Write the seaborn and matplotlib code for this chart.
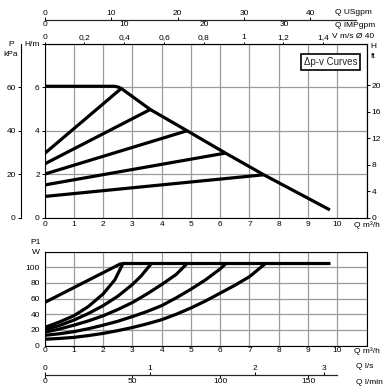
import matplotlib
matplotlib.use("Agg")
import matplotlib.pyplot as plt
import seaborn as sns
import pandas as pd

# ---------------- data ----------------
q_ticks = [0, 1, 2, 3, 4, 5, 6, 7, 8, 9, 10]
q_unit = "Q m³/h"
h_ticks = [0, 2, 4, 6]
kpa_ticks = [0, 20, 40, 60]
ft_ticks = [0, 4, 8, 12, 16, 20]
v_ticks = [0, 0.2, 0.4, 0.6, 0.8, 1.0, 1.2, 1.4]
v_labels = ["0", "0,2", "0,4", "0,6", "0,8", "1", "1,2", "1,4"]
usgpm_ticks = [0, 10, 20, 30, 40]
impgpm_ticks = [0, 10, 20, 30]
ls_ticks = [0, 1, 2, 2.65]
ls_labels = ["0", "1", "2", "3"]
lmin_ticks = [0, 50, 100, 150]
p1_ticks = [0, 20, 40, 60, 80, 100]

# head: maximum curve (H in m vs Q in m3/h)
hmax_q = [0, 2.4, 2.52, 2.62, 3.61, 4.87, 6.18, 7.49, 9.75]
hmax_h = [6.05, 6.05, 6.01, 5.95, 4.98, 4.0, 2.97, 1.97, 0.35]
# head: delta-p-v lines
dpv1_q = [0, 2.62]; dpv1_h = [2.95, 5.95]
dpv2_q = [0, 3.61]; dpv2_h = [2.47, 4.98]
dpv3_q = [0, 4.87]; dpv3_h = [2.0, 4.0]
dpv4_q = [0, 6.18]; dpv4_h = [1.5, 2.97]
dpv5_q = [0, 7.49]; dpv5_h = [0.97, 1.97]

# power P1 (W)
pc_q = [0, 2.62]; pc_w = [55, 105]
pmax_q = [2.62, 9.75]; pmax_w = [105, 105]
p1_q = [0, 0.5, 1, 1.5, 2, 2.4, 2.68]
p1_w = [23, 30, 38, 50, 66, 84, 105]
p2_q = [0, 0.5, 1, 1.5, 2, 2.5, 3, 3.3, 3.65]
p2_w = [20, 25.5, 32.5, 41, 51, 63, 78, 89, 105]
p3_q = [0, 0.5, 1, 1.5, 2, 2.5, 3, 3.5, 4, 4.5, 4.87]
p3_w = [17, 21, 26, 31.5, 38, 46, 55, 66, 78, 91, 105]
p4_q = [0, 0.5, 1, 1.5, 2, 2.5, 3, 3.5, 4, 4.5, 5, 5.5, 6, 6.2]
p4_w = [13, 15, 17.7, 21.5, 26, 31, 37, 43.5, 51, 61, 72, 84, 98, 105]
p5_q = [0, 0.5, 1, 1.5, 2, 2.5, 3, 3.5, 4, 4.5, 5, 5.5, 6, 6.5, 7, 7.55]
p5_w = [8, 9, 10.4, 12.7, 15.5, 19, 23, 27.7, 33, 40, 48, 57, 67, 77, 88, 105]

# ---------------- style ----------------
sns.set_style("white")
plt.rcParams["font.family"] = ["Liberation Sans", "DejaVu Sans"]
plt.rcParams["axes.linewidth"] = 0.8

W, H = 386, 392
fig = plt.figure(figsize=(W / 100, H / 100), dpi=100)

def fx(px):
    return px / W

def fy(py):
    return 1 - py / H

X0, X1 = 44.6, 366.5
TOP0, TOP1 = 44.0, 217.5
BOT0, BOT1 = 251.7, 345.5
FS = 6

ax = fig.add_axes([fx(X0), fy(TOP1), fx(X1) - fx(X0), (TOP1 - TOP0) / H])
axb = fig.add_axes([fx(X0), fy(BOT1), fx(X1) - fx(X0), (BOT1 - BOT0) / H])

LW = 2.3
GRID = dict(color="#9c9c9c", lw=0.9)

def tp(a, length=2.5, pad=1.0, **kw):
    a.tick_params(labelsize=FS, length=length, width=0.7, pad=pad,
                  colors="black", **kw)

def draw(a, xs, ys):
    df = pd.DataFrame({"q": xs, "v": ys})
    sns.lineplot(data=df, x="q", y="v", ax=a, color="black", lw=LW,
                 estimator=None, sort=False, solid_capstyle="butt")

# ---- top (head) chart ----
for xs, ys in [(hmax_q, hmax_h), (dpv1_q, dpv1_h), (dpv2_q, dpv2_h),
               (dpv3_q, dpv3_h), (dpv4_q, dpv4_h), (dpv5_q, dpv5_h)]:
    draw(ax, xs, ys)
ax.set_xlim(0, 11)
ax.set_ylim(0, 8)
ax.set_xticks(q_ticks + [11], [str(t) for t in q_ticks] + [q_unit])
ax.set_yticks(h_ticks + [8], [str(t) for t in h_ticks] + ["H/m"])
ax.set_xlabel("")
ax.set_ylabel("")
ax.set_axisbelow(True)
ax.grid(True, **GRID)
tp(ax, axis="y", length=2.5, pad=1.0)
tp(ax, axis="x", length=2.0, pad=0.8)
for s in ax.spines.values():
    s.set_color("black"); s.set_linewidth(0.8)

# kPa axis
ax_k = ax.twinx()
ax_k.set_ylim(0, 80)
ax_k.spines["left"].set_position(("axes", (20.7 - X0) / (X1 - X0)))
ax_k.spines["left"].set_visible(True)
for s in ["right", "top", "bottom"]:
    ax_k.spines[s].set_visible(False)
ax_k.spines["left"].set_color("black"); ax_k.spines["left"].set_linewidth(0.8)
ax_k.yaxis.set_ticks_position("left")
ax_k.set_yticks(kpa_ticks)
tp(ax_k)

# ft axis
ax_f = ax.twinx()
ax_f.set_ylim(0, 8 * 3.2808)
for s in ["left", "top", "bottom"]:
    ax_f.spines[s].set_visible(False)
ax_f.spines["right"].set_color("black"); ax_f.spines["right"].set_linewidth(0.8)
ax_f.set_yticks(ft_ticks)
tp(ax_f)

# velocity axis (top spine)
kv = 0.147
sv = ax.secondary_xaxis("top", functions=(lambda q: q * kv, lambda v: v / kv))
sv.set_xticks(v_ticks, v_labels)
tp(sv, length=1.8, pad=0.1)
sv.spines["top"].set_linewidth(0.8)

# US / IMP gpm axis line above
loc_g = (TOP1 - 20.0) / (TOP1 - TOP0)
kus, kimp = 4.403, 3.666
sus = ax.secondary_xaxis(loc_g, functions=(lambda q: q * kus, lambda g: g / kus))
sus.set_alignment("top")
sus.set_xticks(usgpm_ticks)
tp(sus, length=2.0, pad=0.5)
sus.spines["top"].set_bounds(0, 10.65 * kus)
sus.spines["top"].set_linewidth(0.8)
simp = ax.secondary_xaxis(loc_g, functions=(lambda q: q * kimp, lambda g: g / kimp))
simp.set_alignment("bottom")
simp.set_xticks(impgpm_ticks)
tp(simp, length=0.8, pad=0.2)
simp.spines["bottom"].set_bounds(0, 10.65 * kimp)
simp.spines["bottom"].set_linewidth(0.8)

# legend box
ax.text((330.5 - X0) / (X1 - X0), (TOP1 - 62) / (TOP1 - TOP0), "Δp-v Curves",
        transform=ax.transAxes, ha="center", va="center", fontsize=7,
        bbox=dict(boxstyle="square,pad=0.3", fc="white", ec="black", lw=1.2),
        zorder=5)

# ---- bottom (power) chart ----
for xs, ys in [(pc_q, pc_w), (pmax_q, pmax_w), (p1_q, p1_w), (p2_q, p2_w),
               (p3_q, p3_w), (p4_q, p4_w), (p5_q, p5_w)]:
    draw(axb, xs, ys)
axb.set_xlim(0, 11)
axb.set_ylim(0, 120)
axb.set_xticks(q_ticks + [11], [str(t) for t in q_ticks] + [q_unit])
axb.set_yticks(p1_ticks + [120], [str(t) for t in p1_ticks] + ["W"])
axb.set_xlabel("")
axb.set_ylabel("")
axb.set_axisbelow(True)
axb.grid(True, **GRID)
tp(axb, axis="y", length=2.5, pad=1.0)
tp(axb, axis="x", length=1.0, pad=0.4)
for s in axb.spines.values():
    s.set_color("black"); s.set_linewidth(0.8)

loc_b = (BOT1 - 375.0) / (BOT1 - BOT0)
sls = axb.secondary_xaxis(loc_b, functions=(lambda q: q / 3.6, lambda l: l * 3.6))
sls.set_alignment("top")
sls.set_xticks(ls_ticks, ls_labels)
tp(sls, length=2.0, pad=0.3)
sls.spines["top"].set_bounds(0, 10.0 / 3.6)
sls.spines["top"].set_linewidth(0.8)
slm = axb.secondary_xaxis(loc_b, functions=(lambda q: q * 1000 / 60, lambda l: l * 60 / 1000))
slm.set_alignment("bottom")
slm.set_xticks(lmin_ticks)
tp(slm, length=2.0, pad=0.4)
slm.spines["bottom"].set_bounds(0, 10.0 * 1000 / 60)
slm.spines["bottom"].set_linewidth(0.8)

# ---- unit texts ----
T = dict(fontsize=FS, color="black", va="center")
fig.text(fx(335), fy(12), "Q USgpm", ha="left", **T)
fig.text(fx(335), fy(25.5), "Q IMPgpm", ha="left", **T)
fig.text(fx(332), fy(37), "V m/s Ø 40", ha="left", **T)
fig.text(fx(370), fy(46), "H", ha="left", **T)
fig.text(fx(371), fy(57), "ft", ha="left", **T)
fig.text(fx(11), fy(44), "P", ha="center", **T)
fig.text(fx(11), fy(55), "kPa", ha="center", **T)
fig.text(fx(36), fy(242), "P1", ha="center", **T)
fig.text(fx(356), fy(367), "Q l/s", ha="left", **T)
fig.text(fx(356), fy(383), "Q l/min", ha="left", **T)

fig.savefig("out.png", dpi=100)
